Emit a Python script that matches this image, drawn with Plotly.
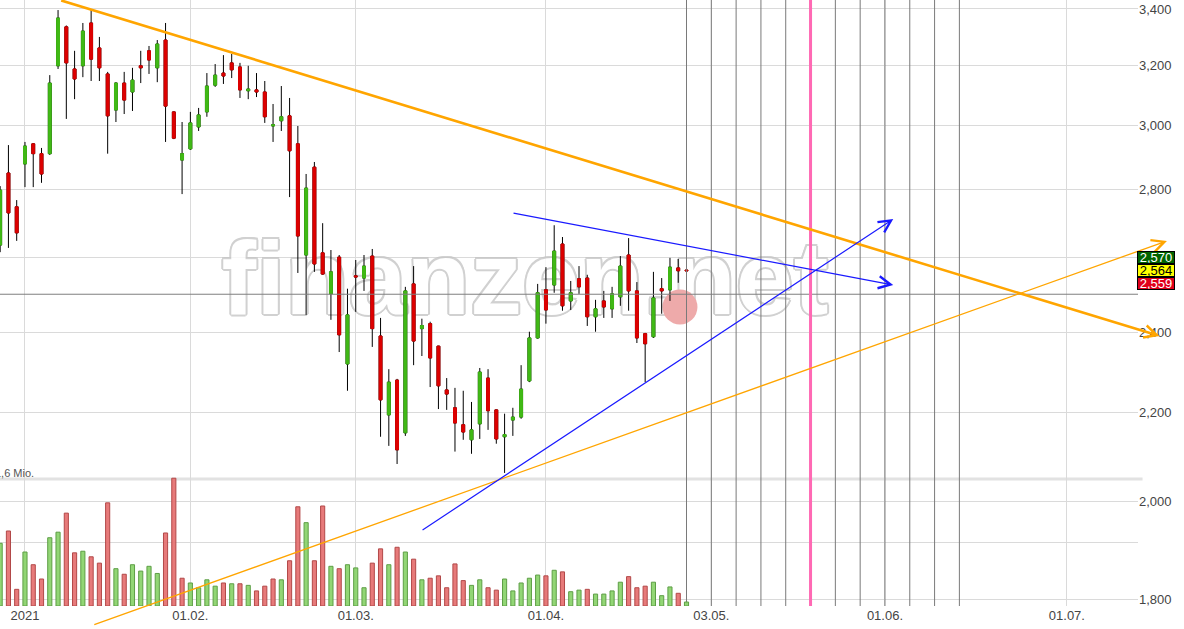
import numpy as np
import pandas as pd
import plotly.graph_objects as go

# ---------------- trading calendar (Xetra) ----------------
holidays = ["2020-12-31", "2021-01-01", "2021-04-02", "2021-04-05"]
calendar = [d.strftime("%Y-%m-%d") for d in pd.bdate_range("2020-12-28", "2021-07-16")
            if d.strftime("%Y-%m-%d") not in holidays]
origin = calendar.index("2021-01-04")


def pos(date):
    return calendar.index(date) - origin


# ---------------- data ----------------
dates = calendar[:84]  # 28.12.2020 ... 28.04.2021

opens = [2636, 2849, 2747, 2877, 2940, 2909, 2909, 3198, 3335, 3187, 3198, 3349, 3260, 3170,
         3049, 3139, 3109, 3198, 3250, 3191, 3288, 3043, 2889, 2924, 2994, 3043, 3132, 3173,
         3208, 3194, 3113, 3116, 3109, 2997, 3014, 3030, 2940, 2608, 2867, 2614, 2501, 2602,
         2319, 2550, 2544, 2605, 2390, 2195, 2279, 2153, 2528, 2409, 2422, 2364, 2255, 2212,
         2172, 2137, 2174, 2284, 2207, 2144, 2183, 2190, 2277, 2385, 2512, 2525, 2639, 2482,
         2542, 2544, 2440, 2482, 2461, 2493, 2608, 2509, 2396, 2388, 2515, 2512, 2572, 2566]
highs = [2809, 2936, 2767, 2946, 2942, 2927, 3166, 3396, 3340, 3250, 3349, 3396, 3299, 3177,
         3142, 3177, 3191, 3250, 3267, 3288, 3349, 3045, 3010, 3043, 3056, 3173, 3204, 3235,
         3239, 3208, 3198, 3173, 3146, 3069, 3129, 3089, 2997, 2846, 2883, 2699, 2622, 2608,
         2515, 2594, 2608, 2625, 2437, 2306, 2282, 2520, 2577, 2435, 2427, 2365, 2284, 2260,
         2253, 2226, 2309, 2306, 2208, 2198, 2212, 2316, 2401, 2528, 2574, 2693, 2659, 2536,
         2577, 2553, 2485, 2509, 2520, 2605, 2656, 2533, 2398, 2561, 2544, 2600, 2597, 2566]
lows = [2616, 2628, 2648, 2806, 2806, 2819, 2905, 3187, 3020, 3085, 3159, 3146, 3146, 2909,
        3010, 3036, 3046, 3139, 3170, 3142, 2946, 2955, 2785, 2921, 2981, 3027, 3126, 3136,
        3156, 3089, 3085, 3092, 3007, 2946, 2981, 2776, 2558, 2445, 2561, 2553, 2432, 2349,
        2253, 2453, 2509, 2362, 2144, 2123, 2082, 2146, 2316, 2339, 2262, 2209, 2207, 2110,
        2137, 2105, 2139, 2160, 2128, 2062, 2146, 2186, 2274, 2383, 2422, 2504, 2456, 2458,
        2501, 2416, 2401, 2437, 2437, 2469, 2456, 2372, 2274, 2385, 2448, 2482, 2531, 2562]
closes = [2797, 2729, 2671, 2933, 2909, 2846, 3139, 3367, 3208, 3153, 3320, 3221, 3191, 3030,
          3139, 3082, 3149, 3191, 3218, 3274, 3062, 2958, 2909, 3007, 3033, 3129, 3166, 3163,
          3184, 3116, 3119, 3109, 3027, 3001, 3027, 2918, 2662, 2803, 2583, 2555, 2561, 2393,
          2445, 2547, 2577, 2409, 2231, 2274, 2114, 2509, 2377, 2417, 2334, 2265, 2245, 2176,
          2155, 2160, 2299, 2205, 2139, 2149, 2190, 2257, 2385, 2504, 2458, 2619, 2469, 2504,
          2520, 2440, 2461, 2466, 2501, 2577, 2509, 2385, 2370, 2490, 2509, 2574, 2564, 2564]
volume_mio = [0.79, 0.945, 0.21, 0.68, 0.52, 0.34, 0.86, 0.93, 1.17, 0.67, 0.69, 0.62, 0.54, 1.30,
              0.47, 0.40, 0.52, 0.44, 0.50, 0.41, 0.92, 1.61, 0.35, 0.29, 0.23, 0.33, 0.25, 0.29,
              0.28, 0.28, 0.26, 0.19, 0.25, 0.34, 0.33, 0.57, 1.25, 1.05, 0.57, 1.26, 0.50, 0.47,
              0.52, 0.48, 0.23, 0.54, 0.72, 0.52, 0.74, 0.68, 0.59, 0.33, 0.35, 0.38, 0.23, 0.53,
              0.32, 0.26, 0.33, 0.23, 0.20, 0.34, 0.19, 0.29, 0.35, 0.39, 0.38, 0.45, 0.43, 0.18,
              0.20, 0.21, 0.15, 0.15, 0.19, 0.30, 0.37, 0.23, 0.25, 0.30, 0.13, 0.24, 0.16, 0.05]

tick_dates = ["2021-01-04", "2021-02-01", "2021-03-01", "2021-04-01", "2021-05-03", "2021-06-01", "2021-07-01"]
tick_labels = ["2021", "01.02.", "01.03.", "01.04.", "03.05.", "01.06.", "01.07."]
price_ticks = [1800, 2000, 2200, 2400, 2600, 2800, 3000, 3200, 3400]

reference_level = 2500
cycle_dates = ["2021-04-28", "2021-05-03", "2021-05-06", "2021-05-11", "2021-05-14",
               "2021-05-24", "2021-05-27", "2021-06-01", "2021-06-04", "2021-06-09", "2021-06-14"]
highlight_date = "2021-05-19"

# trend lines: (tail_index, tail_price, head_index, head_price)
trend_resistance = [4.2, 3433, 137.2, 2390]
trend_support = [8.2, 1750, 138.1, 2648]
trend_blue_up = [47.9, 1937, 105.0, 2711]
trend_blue_down = [58.9, 2729, 105.0, 2525]

quote_labels = ["2,570", "2,564", "2,559"]
quote_price = 2564

# ---------------- scales ----------------
x_left, x_right = -3.02, 134.6
price_bottom, price_top = 1786.5, 3433
vol_top = 7.635

xs = [pos(d) for d in dates]
body_hi = [max(o, c) for o, c in zip(opens, closes)]
body_lo = [min(o, c) for o, c in zip(opens, closes)]

GREEN = "#40b916"
RED = "#dd0000"

fig = go.Figure()

# watermark (main, hidden subplot -> drawn beneath everything)
outline = ", ".join(f"{dx}px {dy}px 0 #c6c6c6" for dx, dy in
                    [(2, 0), (-2, 0), (0, 2), (0, -2), (1.4, 1.4), (-1.4, -1.4), (1.4, -1.4), (-1.4, 1.4)])
fig.add_trace(go.Scatter(
    x=[x_left + 0.4613 * (x_right - x_left)], y=[0.5254], mode="text", text=["finanzen.net"],
    textposition="middle center", cliponaxis=False, opacity=0.8,
    textfont=dict(family="Liberation Sans", size=104, color="white", weight="bold", shadow=outline),
    xaxis="x", yaxis="y", hoverinfo="skip", showlegend=False))
fig.add_trace(go.Scatter(
    x=[x_left + 0.5975 * (x_right - x_left)], y=[0.4934], mode="markers",
    marker=dict(size=35, color="#eeaaaa", line=dict(width=0)),
    xaxis="x", yaxis="y", hoverinfo="skip", showlegend=False))

# candles: black wicks, coloured bodies on top
fig.add_trace(go.Candlestick(
    x=xs, open=opens, high=highs, low=lows, close=closes, xaxis="x", yaxis="y2",
    increasing=dict(line=dict(color="black", width=1), fillcolor="black"),
    decreasing=dict(line=dict(color="black", width=1), fillcolor="black"),
    whiskerwidth=0, showlegend=False, hoverinfo="skip"))
fig.add_trace(go.Candlestick(
    x=xs, open=opens, high=body_hi, low=body_lo, close=closes, xaxis="x", yaxis="y2",
    increasing=dict(line=dict(color=GREEN, width=1), fillcolor=GREEN),
    decreasing=dict(line=dict(color=RED, width=1), fillcolor=RED),
    whiskerwidth=0, showlegend=False, hoverinfo="skip"))

# reference level and cycle lines
fig.add_trace(go.Scatter(x=[x_left, x_right], y=[reference_level, reference_level], mode="lines",
                         line=dict(color="#7f7f7f", width=1), xaxis="x", yaxis="y2",
                         hoverinfo="skip", showlegend=False))
cx, cy = [], []
for d in cycle_dates:
    cx += [pos(d), pos(d), None]
    cy += [price_bottom, price_top, None]
fig.add_trace(go.Scatter(x=cx, y=cy, mode="lines", line=dict(color="#7a7a7a", width=1),
                         xaxis="x", yaxis="y2", hoverinfo="skip", showlegend=False))
fig.add_trace(go.Scatter(x=[pos(highlight_date)] * 2, y=[price_bottom, price_top], mode="lines",
                         line=dict(color="#ff69b4", width=3), xaxis="x", yaxis="y2",
                         hoverinfo="skip", showlegend=False))

# volume
vcol, vline = [], []
prev = None
for c in closes:
    up = prev is None or c >= prev
    vcol.append("rgba(140,212,110,0.95)" if up else "rgba(230,115,115,0.95)")
    vline.append("#5d9e45" if up else "#b24848")
    prev = c
fig.add_trace(go.Bar(x=xs, y=volume_mio, width=0.5, xaxis="x", yaxis="y3",
                     marker=dict(color=vcol, line=dict(color=vline, width=1)),
                     hoverinfo="skip", showlegend=False))

# ---------------- annotations ----------------
ann = []
for (tx, tp, hx, hp), color, w, s in [
        (trend_resistance, "#ffa500", 2.6, 0.95),
        (trend_support, "#ffa500", 1.3, 1.9),
        (trend_blue_up, "#1a1aff", 1.2, 2.0),
        (trend_blue_down, "#1a1aff", 1.2, 2.0)]:
    ann.append(dict(x=hx, y=np.log10(hp), ax=tx, ay=np.log10(tp), xref="x", yref="y2",
                    axref="x", ayref="y2", showarrow=True, arrowhead=5, arrowsize=s,
                    arrowwidth=w, arrowcolor=color, text=" ", font=dict(size=1),
                    standoff=0, startstandoff=0))

box_styles = [("#006400", "white", 13), ("#ffff00", "black", 0), ("#e0001b", "white", -13)]
for label, (bg, fg, shift) in zip(quote_labels, box_styles):
    ann.append(dict(x=1, xref="paper", xanchor="left", xshift=-1, y=np.log10(quote_price), yref="y2",
                    yanchor="middle", yshift=shift, text=label, showarrow=False,
                    font=dict(family="Liberation Sans", size=13, color=fg),
                    bgcolor=bg, bordercolor="black", borderwidth=1, borderpad=0,
                    width=36, height=11))

ann.append(dict(x=0, xref="paper", xanchor="left", xshift=-7, y=1.6, yref="y3", yanchor="bottom",
                yshift=-2, text="1,6 Mio.", showarrow=False,
                font=dict(family="Liberation Sans", size=11, color="#555555")))

fig.update_layout(
    width=1184, height=629,
    margin=dict(l=0, r=46, t=0, b=23, autoexpand=False),
    paper_bgcolor="white", plot_bgcolor="white",
    font=dict(family="Liberation Sans", color="#444444"),
    showlegend=False, hovermode=False,
    boxmode="overlay", boxgap=0.5,
    annotations=ann,
    shapes=[dict(type="line", xref="paper", x0=0, x1=1.004, yref="y3", y0=1.6, y1=1.6,
                 line=dict(color="#e2e2e2", width=3), layer="below")],
    xaxis=dict(range=[x_left, x_right], tickmode="array", automargin=False,
               tickvals=[pos(d) for d in tick_dates], ticktext=tick_labels,
               showgrid=True, gridcolor="#dadada", gridwidth=1, zeroline=False, showline=False,
               ticks="", tickfont=dict(size=13, color="#444444"),
               rangeslider=dict(visible=False), fixedrange=True),
    yaxis=dict(range=[0, 1], visible=False, fixedrange=True, automargin=False),
    yaxis2=dict(type="log", range=[np.log10(price_bottom), np.log10(price_top)],
                overlaying="y", side="right", tickmode="array", tickvals=price_ticks,
                ticktext=[f"{v:,}" for v in price_ticks], automargin=False,
                showgrid=True, gridcolor="#dadada", zeroline=False, showline=False, ticks="",
                ticklabelstandoff=0, tickfont=dict(size=13, color="#444444"), fixedrange=True),
    yaxis3=dict(range=[0, vol_top], overlaying="y", side="left", showticklabels=False,
                tickmode="array", tickvals=[0.8], showgrid=True, gridcolor="#dadada",
                zeroline=False, showline=False, ticks="", fixedrange=True, automargin=False),
)

fig.write_html("out.html", config={"displayModeBar": False},
               post_script="document.body.style.margin='0';document.body.style.overflow='hidden';")
